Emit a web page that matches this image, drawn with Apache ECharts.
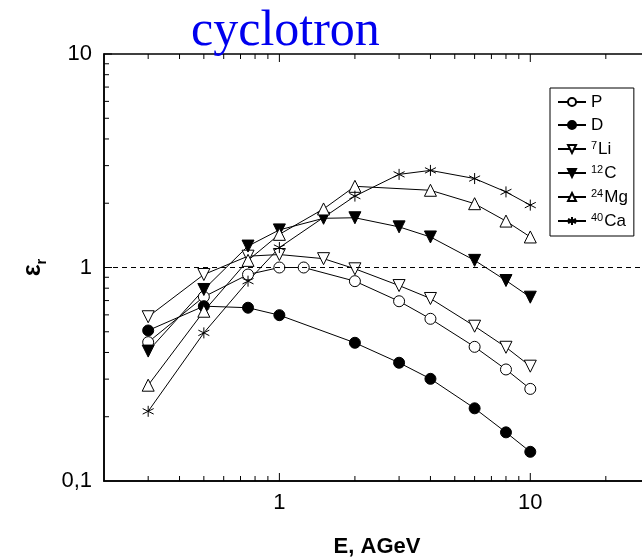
<!DOCTYPE html>
<html>
<head>
<meta charset="utf-8">
<script src="https://cdn.jsdelivr.net/npm/echarts@6/dist/echarts.min.js"></script>
<style>
  html, body { margin: 0; padding: 0; background: #fff; }
  #chart { width: 642px; height: 557px; }
</style>
</head>
<body>
<div id="chart"></div>
<script>
// energy (AGeV) and epsilon_r for each beam
const energyP = [0.3, 0.5, 0.75, 1, 1.25, 2, 3, 4, 6, 8, 10];
const epsP = [0.447, 0.729, 0.927, 1.0, 1.0, 0.863, 0.695, 0.575, 0.425, 0.333, 0.270];

const energyD = [0.3, 0.5, 0.75, 1, 2, 3, 4, 6, 8, 10];
const epsD = [0.507, 0.659, 0.648, 0.598, 0.444, 0.358, 0.301, 0.219, 0.169, 0.137];

const energyLi = [0.3, 0.5, 0.75, 1, 1.5, 2, 3, 4, 6, 8, 10];
const epsLi = [0.588, 0.927, 1.13, 1.15, 1.10, 0.986, 0.823, 0.716, 0.531, 0.423, 0.345];

const energyC = [0.3, 0.5, 0.75, 1, 1.5, 2, 3, 4, 6, 8, 10];
const epsC = [0.406, 0.789, 1.26, 1.50, 1.70, 1.71, 1.55, 1.39, 1.08, 0.869, 0.726];

const energyMg = [0.3, 0.5, 0.75, 1, 1.5, 2, 4, 6, 8, 10];
const epsMg = [0.281, 0.624, 1.08, 1.43, 1.88, 2.40, 2.30, 1.99, 1.65, 1.39];

const energyCa = [0.3, 0.5, 0.75, 1, 2, 3, 4, 6, 8, 10];
const epsCa = [0.212, 0.494, 0.863, 1.24, 2.16, 2.73, 2.85, 2.61, 2.26, 1.96];

// tick positions (axis values)
const xLabels = [1, 10];
const xMajorTicks = [1, 10];
const xMinorTicks = [0.3, 0.4, 0.5, 0.6, 0.7, 0.8, 0.9, 2, 3, 4, 5, 6, 7, 8, 9, 20];
const yLabels = [0.1, 1, 10];
const yMajorTicks = [1, 10];
const yMinorTicks = [0.2, 0.3, 0.4, 0.5, 0.6, 0.7, 0.8, 0.9, 2, 3, 4, 5, 6, 7, 8, 9];

const X_MIN = 0.2, X_MAX = 30, Y_MIN = 0.1, Y_MAX = 10;

const FONT = 'Liberation Sans, Arial, sans-serif';
const asterisk = 'path://M5,0L5,10M0.67,2.5L9.33,7.5M0.67,7.5L9.33,2.5';
const openCircle = 'path://M10,5A5,5,0,1,1,0,5A5,5,0,1,1,10,5Z';
const openUp = 'path://M5,0L10,9L0,9Z';
const openDown = 'path://M0,0L10,0L5,9Z';

function pairs(xs, ys) {
  return xs.map((x, i) => [x, ys[i]]);
}

function makeSeries(name, xs, ys, symbol, size, hollow, extra) {
  return Object.assign({
    name,
    type: 'line',
    data: pairs(xs, ys),
    symbol,
    symbolSize: size,
    showAllSymbol: true,
    lineStyle: { color: '#000', width: 1 },
    itemStyle: hollow
      ? { color: '#fff', borderColor: '#000', borderWidth: 1 }
      : { color: '#000', borderColor: '#000', borderWidth: 1 },
    emphasis: { disabled: true },
    z: 3
  }, extra || {});
}

// inward ticks drawn through the axes' own log scales
function tickSeries(values, dir, len) {
  return {
    type: 'custom',
    silent: true,
    clip: false,
    z: 4,
    data: values.map(v => dir === 'y' ? [X_MIN, v] : [v, Y_MIN]),
    renderItem: (params, api) => {
      const style = { stroke: '#000', lineWidth: 1 };
      if (dir === 'y') {
        const p = api.coord([X_MIN, api.value(1)]);
        return { type: 'line', shape: { x1: p[0], y1: p[1], x2: p[0] + len, y2: p[1] }, style };
      }
      const v = api.value(0);
      const b = api.coord([v, Y_MIN]);
      const t = api.coord([v, Y_MAX]);
      return {
        type: 'group',
        children: [
          { type: 'line', shape: { x1: b[0], y1: b[1], x2: b[0], y2: b[1] - len }, style },
          { type: 'line', shape: { x1: t[0], y1: t[1], x2: t[0], y2: t[1] + len }, style }
        ]
      };
    }
  };
}

const chart = echarts.init(document.getElementById('chart'), null, { renderer: 'canvas' });

chart.setOption({
  backgroundColor: '#fff',
  animation: false,
  title: {
    text: 'cyclotron',
    left: 191, top: 7, padding: 0,
    textStyle: { color: '#0000ee', fontFamily: 'Liberation Serif, Times New Roman, serif', fontSize: 50, fontWeight: 'normal' }
  },
  grid: {
    left: 104, right: -8, top: 54, bottom: 76, containLabel: false, outerBoundsMode: 'none',
    show: true, borderColor: '#000', borderWidth: 1.5, backgroundColor: 'transparent'
  },
  xAxis: {
    type: 'log', logBase: 10, min: X_MIN, max: X_MAX,
    axisLine: { show: true, onZero: false, lineStyle: { color: '#000', width: 1.5 } },
    axisTick: { show: false },
    axisLabel: { customValues: xLabels, margin: 11, color: '#000', fontSize: 22, fontFamily: FONT },
    splitLine: { show: false },
    name: 'E, AGeV',
    nameLocation: 'middle',
    nameGap: 55,
    nameTextStyle: { color: '#000', fontSize: 22, fontWeight: 'bold', fontFamily: FONT }
  },
  yAxis: {
    type: 'log', logBase: 10, min: Y_MIN, max: Y_MAX,
    axisLine: { show: true, onZero: false, lineStyle: { color: '#000', width: 1.5 } },
    axisTick: { show: false },
    axisLabel: {
      customValues: yLabels,
      margin: 12, color: '#000', fontSize: 22, fontFamily: FONT,
      formatter: v => String(v).replace('.', ',')
    },
    splitLine: { show: false },
    name: '{e|ε}{r|r}',
    nameLocation: 'middle',
    nameRotate: 90,
    nameGap: 55,
    nameTextStyle: {
      color: '#000', fontFamily: FONT, fontWeight: 'bold',
      rich: {
        e: { fontSize: 25, fontWeight: 'bold', fontFamily: FONT, color: '#000', lineHeight: 28, verticalAlign: 'top' },
        r: { fontSize: 15, fontWeight: 'bold', fontFamily: FONT, color: '#000', lineHeight: 28, verticalAlign: 'bottom' }
      }
    }
  },
  legend: {
    orient: 'vertical',
    left: 550, top: 88,
    padding: [6, 6, 6, 7],
    itemWidth: 28, itemHeight: 10, itemGap: 6,
    borderColor: '#000', borderWidth: 1, borderRadius: 0,
    backgroundColor: '#fff',
    selectedMode: false,
    data: ['P', 'D', '7Li', '12C', '24Mg', '40Ca'],
    formatter: name => {
      const m = name.match(/^(\d+)(.*)$/);
      return m ? '{s|' + m[1] + '}{n|' + m[2] + '}' : '{n|' + name + '}';
    },
    textStyle: {
      color: '#000', fontFamily: FONT, fontSize: 16,
      rich: {
        n: { fontSize: 17, fontFamily: FONT, color: '#000', lineHeight: 18, verticalAlign: 'bottom' },
        s: { fontSize: 11, fontFamily: FONT, color: '#000', lineHeight: 18, verticalAlign: 'top', padding: [0, 1, 0, 0] }
      }
    }
  },
  series: [
    makeSeries('P', energyP, epsP, openCircle, 11, true, {
      markLine: {
        silent: true, symbol: ['none', 'none'], label: { show: false },
        lineStyle: { color: '#000', type: [5, 4], width: 1 },
        data: [{ yAxis: 1 }]
      }
    }),
    makeSeries('D', energyD, epsD, 'circle', 11, false),
    makeSeries('7Li', energyLi, epsLi, openDown, 12, true),
    makeSeries('12C', energyC, epsC, openDown, 12, false),
    makeSeries('24Mg', energyMg, epsMg, openUp, 12, true),
    makeSeries('40Ca', energyCa, epsCa, asterisk, 11, false, {
      itemStyle: { color: 'none', borderColor: '#000', borderWidth: 1 }
    }),
    tickSeries(xMajorTicks, 'x', 8),
    tickSeries(xMinorTicks, 'x', 5),
    tickSeries(yMajorTicks, 'y', 8),
    tickSeries(yMinorTicks, 'y', 5)
  ]
});
</script>
</body>
</html>
